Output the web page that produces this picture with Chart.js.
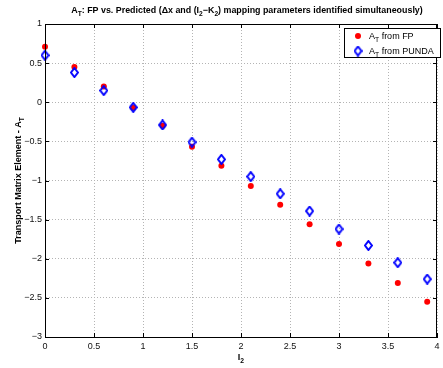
<!DOCTYPE html>
<html>
<head>
<meta charset="utf-8">
<script src="https://cdn.jsdelivr.net/npm/chart.js@4"></script>
<style>
  body { margin: 0; background: #fff; }
  canvas { display: block; }
</style>
</head>
<body>
<canvas id="chart" width="443" height="368"></canvas>
<script>
// Data
const i2Values = [0, 0.3, 0.6, 0.9, 1.2, 1.5, 1.8, 2.1, 2.4, 2.7, 3.0, 3.3, 3.6, 3.9];
const fpValues = [0.71, 0.45, 0.20, -0.07, -0.30, -0.57, -0.81, -1.07, -1.31, -1.56, -1.81, -2.06, -2.31, -2.55];
const pundaValues = [0.60, 0.38, 0.15, -0.065, -0.29, -0.51, -0.73, -0.95, -1.17, -1.39, -1.62, -1.83, -2.05, -2.26];
const xTicks = [0, 0.5, 1, 1.5, 2, 2.5, 3, 3.5, 4];
const yTicks = [1, 0.5, 0, -0.5, -1, -1.5, -2, -2.5, -3];

const FONT = '"Liberation Sans", Arial, sans-serif';

// Hollow diamond marker like MATLAB's 'd'
function makeDiamond() {
    const c = document.createElement('canvas');
    c.width = 9; c.height = 11;
    const g = c.getContext('2d');
    g.strokeStyle = '#0000ff';
    g.lineWidth = 2;
    g.beginPath();
    g.moveTo(4.5, 1); g.lineTo(8, 5.5); g.lineTo(4.5, 10); g.lineTo(1, 5.5); g.closePath();
    g.stroke();
    return c;
}
const diamond = makeDiamond();

// Draw text made of [text, isSubscript] pieces
function richWidth(ctx, parts, size, weight) {
    let w = 0;
    parts.forEach(([t, sub]) => {
        ctx.font = `${weight} ${sub ? size * 0.75 : size}px ${FONT}`;
        w += ctx.measureText(t).width;
    });
    return w;
}
function drawRich(ctx, parts, x, y, size, weight, align) {
    let w = richWidth(ctx, parts, size, weight);
    let cx = align === 'center' ? x - w / 2 : x;
    ctx.textBaseline = 'alphabetic';
    ctx.textAlign = 'left';
    parts.forEach(([t, sub]) => {
        ctx.font = `${weight} ${sub ? size * 0.75 : size}px ${FONT}`;
        ctx.fillText(t, cx, sub ? y + size * 0.35 : y);
        cx += ctx.measureText(t).width;
    });
}

const titleParts = [['A', 0], ['T', 1], [': FP vs. Predicted (\u0394x and (I', 0], ['2', 1], ['\u2212K', 0], ['2', 1], [') mapping parameters identified simultaneously)', 0]];
const yTitleParts = [['Transport Matrix Element - A', 0], ['T', 1]];
const xTitleParts = [['I', 0], ['2', 1]];
const legendItems = [
    { parts: [['A', 0], ['T', 1], [' from FP', 0]], kind: 'dot' },
    { parts: [['A', 0], ['T', 1], [' from PUNDA', 0]], kind: 'diamond' }
];

// Box, inside ticks, titles and legend
const matlabFrame = {
    id: 'matlabFrame',
    afterDraw(chart) {
        const ctx = chart.ctx;
        const a = chart.chartArea;
        const xs = chart.scales.x, ys = chart.scales.y;
        ctx.save();
        ctx.strokeStyle = '#000';
        ctx.lineWidth = 1;
        ctx.strokeRect(Math.round(a.left) + 0.5, Math.round(a.top) + 0.5, Math.round(a.right - a.left) - 1, Math.round(a.bottom - a.top));
        ctx.beginPath();
        xTicks.forEach(v => {
            const px = Math.round(xs.getPixelForValue(v)) + 0.5;
            ctx.moveTo(px, a.bottom); ctx.lineTo(px, a.bottom - 4);
            ctx.moveTo(px, a.top); ctx.lineTo(px, a.top + 4);
        });
        yTicks.forEach(v => {
            const py = Math.round(ys.getPixelForValue(v)) + 0.5;
            ctx.moveTo(a.left, py); ctx.lineTo(a.left + 4, py);
            ctx.moveTo(a.right, py); ctx.lineTo(a.right - 4, py);
        });
        ctx.stroke();

        ctx.fillStyle = '#000';
        drawRich(ctx, titleParts, 247, 13, 8.9, 'bold', 'center');
        drawRich(ctx, xTitleParts, (a.left + a.right) / 2, 360, 9, 'bold', 'center');
        ctx.save();
        ctx.translate(21, (a.top + a.bottom) / 2);
        ctx.rotate(-Math.PI / 2);
        drawRich(ctx, yTitleParts, 0, 0, 9, 'bold', 'center');
        ctx.restore();

        // legend
        const lx = 344, ly = 28, lw = 96, lh = 29;
        ctx.fillStyle = '#fff';
        ctx.fillRect(lx, ly, lw, lh);
        ctx.strokeStyle = '#000';
        ctx.strokeRect(lx + 0.5, ly + 0.5, lw, lh);
        legendItems.forEach((item, i) => {
            const cy = ly + 8 + i * 15;
            if (item.kind === 'dot') {
                ctx.fillStyle = '#ff0000';
                ctx.beginPath(); ctx.arc(358, cy, 3, 0, Math.PI * 2); ctx.fill();
            } else {
                ctx.drawImage(diamond, 358 - 4.5, cy - 5.5);
            }
            ctx.fillStyle = '#000';
            drawRich(ctx, item.parts, 369, cy + 3, 9, 'normal', 'left');
        });
        ctx.restore();
    }
};

const minus = v => String(v).replace('-', '\u2212');

new Chart(document.getElementById('chart'), {
    type: 'scatter',
    data: {
        datasets: [
            {
                label: 'A_T from PUNDA',
                data: i2Values.map((x, i) => ({ x, y: pundaValues[i] })),
                pointStyle: diamond,
                pointRadius: 5,
                clip: false
            },
            {
                label: 'A_T from FP',
                data: i2Values.map((x, i) => ({ x, y: fpValues[i] })),
                pointStyle: 'circle',
                pointRadius: 3,
                backgroundColor: '#ff0000',
                borderWidth: 0,
                clip: false
            }
        ]
    },
    options: {
        responsive: false,
        devicePixelRatio: 1,
        animation: false,
        events: [],
        layout: { padding: { top: 24, right: 1, left: 0, bottom: 0 } },
        plugins: { legend: { display: false }, tooltip: { enabled: false } },
        scales: {
            x: {
                type: 'linear', min: 0, max: 4,
                afterBuildTicks: s => { s.ticks = xTicks.map(v => ({ value: v })); },
                afterFit: s => { s.height = 31; s.paddingLeft = 0; s.paddingRight = 0; },
                grid: { color: '#b4b4b4', lineWidth: 1, drawTicks: false },
                border: { color: '#000', width: 1, dash: [1, 2] },
                ticks: { color: '#111', padding: 4, maxRotation: 0, autoSkip: false,
                         font: { family: FONT, size: 9 }, callback: minus }
            },
            y: {
                type: 'linear', min: -3, max: 1,
                afterBuildTicks: s => { s.ticks = yTicks.map(v => ({ value: v })); },
                afterFit: s => { s.width = 45; s.paddingTop = 0; s.paddingBottom = 0; },
                grid: { color: '#b4b4b4', lineWidth: 1, drawTicks: false },
                border: { color: '#000', width: 1, dash: [1, 2] },
                ticks: { color: '#111', padding: 3, autoSkip: false,
                         font: { family: FONT, size: 9 }, callback: minus }
            }
        }
    },
    plugins: [matlabFrame]
});
</script>
</body>
</html>
